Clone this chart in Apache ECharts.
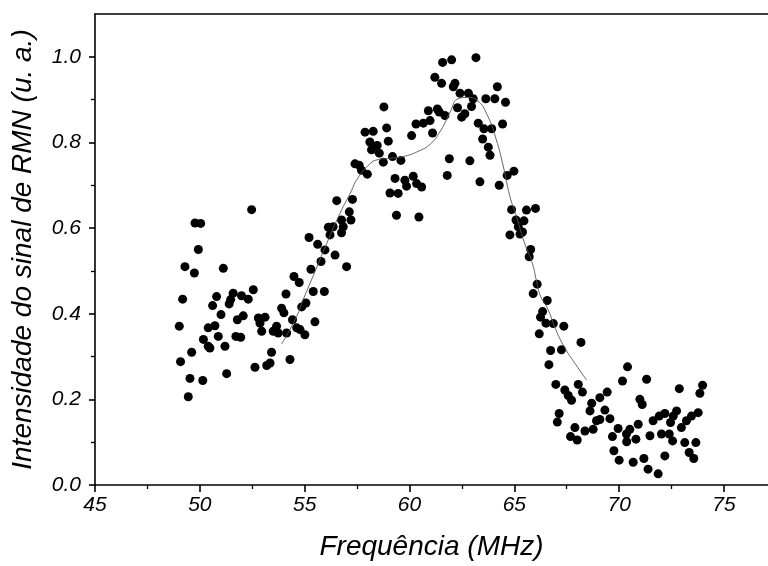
<!DOCTYPE html>
<html><head><meta charset="utf-8">
<script src="https://cdn.jsdelivr.net/npm/echarts@6/dist/echarts.min.js"></script>
<style>html,body{margin:0;padding:0;background:#fff}#c{width:768px;height:566px}</style>
</head><body><div id="c"></div>
<script>
const xTicks = [45, 50, 55, 60, 65, 70, 75];
const xMinorTicks = [47.5, 52.5, 57.5, 62.5, 67.5, 72.5];
const yTicks = [0, 0.2, 0.4, 0.6, 0.8, 1.0];
const yMinorTicks = [0.1, 0.3, 0.5, 0.7, 0.9];

const sampleFreq = [
 52.47,49.77,50.04,49.93,49.29,49.74,51.12,49.18,50.80,50.61,51.59,51.47,51.40,51.99,52.31,52.55,54.11,51.01,52.07,51.79,
 49.02,50.40,50.72,50.88,51.72,51.95,50.17,50.40,50.48,51.20,52.79,53.11,52.87,52.95,53.66,53.50,53.74,54.14,53.90,54.01,
 54.42,54.62,49.61,49.08,53.42,54.30,52.63,53.19,53.35,51.28,49.53,50.14,49.45,
 58.78,57.88,58.27,58.91,60.31,60.10,58.11,58.46,58.19,58.56,58.99,59.19,58.75,59.59,57.40,57.60,57.71,57.99,
 59.31,59.78,60.18,60.34,59.86,59.07,59.46,59.38,60.45,56.53,57.28,57.13,56.76,57.21,56.36,56.13,56.84,56.76,56.21,
 55.21,55.62,55.97,56.45,55.78,57.00,55.30,54.49,54.74,55.41,55.94,55.06,54.86,55.49,54.78,55.01,
 61.58,62.01,63.17,61.21,61.53,62.17,62.09,64.19,62.41,62.81,63.04,62.96,63.64,64.07,64.58,62.29,62.64,62.49,
 60.90,61.33,61.69,61.42,60.66,60.98,61.10,63.28,63.55,63.92,64.44,63.49,63.76,63.84,61.90,62.88,61.80,60.58,
 63.36,64.28,64.66,64.98,64.87,65.58,66.01,65.08,65.46,65.19,65.39,64.79,65.27,
 65.78,65.71,66.09,65.90,66.57,66.35,66.25,66.51,66.86,67.36,66.19,68.18,66.73,67.25,66.65,66.98,68.05,68.25,
 67.41,67.57,67.73,67.14,67.05,68.69,68.61,69.08,69.43,69.32,69.56,67.89,68.37,68.76,68.92,69.08,67.68,68.00,
 70.16,70.40,69.95,69.68,70.35,69.75,70.00,
 71.31,72.87,73.98,73.85,70.99,71.10,71.62,71.91,72.18,72.58,72.45,72.74,72.97,73.21,73.45,73.77,
 70.51,70.36,70.80,70.91,71.47,72.02,72.39,72.55,73.13,73.66,70.67,71.18,71.38,71.86,72.18,73.34,73.56
];
const sampleSignal = [
 0.643,0.612,0.611,0.550,0.510,0.495,0.506,0.434,0.440,0.419,0.448,0.433,0.423,0.442,0.434,0.456,0.446,0.398,0.395,0.386,
 0.371,0.367,0.372,0.347,0.347,0.345,0.340,0.324,0.320,0.324,0.390,0.392,0.378,0.359,0.371,0.359,0.355,0.355,0.413,0.402,
 0.386,0.367,0.310,0.288,0.310,0.293,0.275,0.279,0.285,0.260,0.249,0.244,0.206,
 0.883,0.824,0.826,0.834,0.843,0.816,0.801,0.793,0.783,0.775,0.803,0.767,0.754,0.758,0.750,0.747,0.735,0.726,
 0.716,0.712,0.721,0.704,0.698,0.682,0.681,0.630,0.626,0.664,0.667,0.638,0.619,0.619,0.603,0.602,0.603,0.589,0.584,
 0.578,0.562,0.549,0.537,0.522,0.510,0.504,0.487,0.473,0.452,0.452,0.425,0.416,0.381,0.363,0.351,
 0.987,0.993,0.998,0.952,0.938,0.938,0.930,0.930,0.915,0.915,0.902,0.884,0.902,0.902,0.894,0.881,0.867,0.859,
 0.874,0.878,0.863,0.871,0.845,0.851,0.822,0.845,0.832,0.832,0.843,0.808,0.789,0.770,0.762,0.757,0.723,0.696,
 0.708,0.700,0.723,0.733,0.643,0.642,0.646,0.619,0.617,0.603,0.591,0.584,0.586,
 0.550,0.533,0.469,0.447,0.431,0.405,0.392,0.378,0.377,0.371,0.353,0.333,0.314,0.316,0.281,0.235,0.235,0.217,
 0.222,0.209,0.198,0.167,0.147,0.191,0.173,0.204,0.217,0.175,0.155,0.134,0.126,0.130,0.150,0.153,0.113,0.105,
 0.243,0.276,0.132,0.113,0.119,0.080,0.058,
 0.247,0.225,0.233,0.214,0.200,0.188,0.150,0.161,0.167,0.161,0.146,0.173,0.134,0.150,0.161,0.169,
 0.130,0.101,0.107,0.142,0.115,0.119,0.119,0.103,0.099,0.099,0.053,0.062,0.037,0.026,0.068,0.076,0.062
];

const fitFreq = [53.9,54.62,54.93,55.49,56.05,56.68,57.24,57.47,58.11,58.51,59.07,59.70,60.40,61.01,61.49,61.96,62.28,62.75,63.23,63.70,64.13,64.47,64.79,65.11,65.48,65.86,66.06,66.25,66.57,67.04,67.45,67.92,68.45];
const fitSignal = [0.329,0.394,0.433,0.498,0.564,0.634,0.688,0.712,0.750,0.760,0.763,0.767,0.779,0.797,0.828,0.873,0.901,0.905,0.898,0.865,0.808,0.745,0.674,0.626,0.566,0.518,0.476,0.441,0.414,0.356,0.317,0.282,0.245];

const FONT = 'Liberation Sans, Arial, sans-serif';
const chart = echarts.init(document.getElementById('c'), null, {renderer: 'canvas'});
const axisColor = '#000';
chart.setOption({
  animation: false,
  backgroundColor: '#fff',
  grid: {left: 95, top: 14, right: 0, bottom: 80, containLabel: false},
  xAxis: [
    {type: 'value', min: 45, max: 77.1, position: 'bottom',
     axisLine: {show: true, onZero: false, lineStyle: {color: axisColor, width: 1.6}},
     axisTick: {show: true, customValues: xTicks, length: 7, lineStyle: {color: axisColor, width: 1.6}},
     axisLabel: {customValues: xTicks, margin: 10, color: '#000', fontSize: 21, fontStyle: 'italic', fontFamily: FONT},
     splitLine: {show: false},
     name: 'Frequência (MHz)', nameLocation: 'middle', nameGap: 48,
     nameTextStyle: {fontSize: 28, fontStyle: 'italic', fontFamily: FONT, color: '#000'}},
    {type: 'value', min: 45, max: 77.1, position: 'bottom',
     axisLine: {show: false, onZero: false},
     axisTick: {show: true, customValues: xMinorTicks, length: 4, lineStyle: {color: axisColor, width: 1.3}},
     axisLabel: {show: false}, splitLine: {show: false}},
    {type: 'value', min: 45, max: 77.1, position: 'top',
     axisLine: {show: true, onZero: false, lineStyle: {color: axisColor, width: 1.6}},
     axisTick: {show: false}, axisLabel: {show: false}, splitLine: {show: false}}
  ],
  yAxis: [
    {type: 'value', min: 0, max: 1.1, position: 'left',
     axisLine: {show: true, onZero: false, lineStyle: {color: axisColor, width: 1.6}},
     axisTick: {show: true, customValues: yTicks, length: 6, lineStyle: {color: axisColor, width: 1.6}},
     axisLabel: {customValues: yTicks, margin: 14, color: '#000', fontSize: 21, fontStyle: 'italic', fontFamily: FONT,
                 formatter: v => Number(v).toFixed(1)},
     splitLine: {show: false},
     name: 'Intensidade do sinal de RMN (u. a.)', nameLocation: 'middle', nameGap: 58, nameRotate: 90,
     nameTextStyle: {fontSize: 28, fontStyle: 'italic', fontFamily: FONT, color: '#000'}},
    {type: 'value', min: 0, max: 1.1, position: 'left',
     axisLine: {show: false, onZero: false},
     axisTick: {show: true, customValues: yMinorTicks, length: 4, lineStyle: {color: axisColor, width: 1.3}},
     axisLabel: {show: false}, splitLine: {show: false}}
  ],
  series: [
    {type: 'line', xAxisIndex: 0, yAxisIndex: 0, smooth: true, symbol: 'none',
     lineStyle: {color: '#555', width: 0.9},
     data: fitFreq.map((f, i) => [f, fitSignal[i]])},
    {type: 'scatter', xAxisIndex: 0, yAxisIndex: 0, symbol: 'circle', symbolSize: 9,
     itemStyle: {color: '#000', opacity: 1},
     data: sampleFreq.map((f, i) => [f, sampleSignal[i]])}
  ]
});
</script></body></html>
